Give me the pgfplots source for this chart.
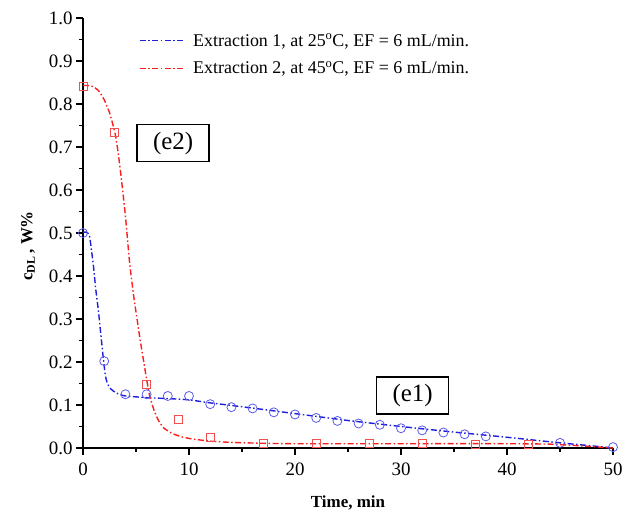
\documentclass[border=0pt]{standalone}
\usepackage{pgfplots}
\pgfplotsset{compat=1.18}
\usepackage{fontspec}
\setmainfont{Liberation Serif}
\definecolor{myblue}{RGB}{30,30,220}
\definecolor{myred}{RGB}{250,30,30}
\definecolor{mkblue}{RGB}{90,90,235}
\definecolor{mkred}{RGB}{240,80,80}
\begin{document}
\begin{tikzpicture}
\begin{axis}[
  name=ax,
  scale only axis,
  width=530bp, height=430bp,
  xmin=0, xmax=50, ymin=0, ymax=1.0,
  axis x line=bottom, axis y line=left,
  axis line style={-, line width=1.4bp, black},
  tick align=outside,
  xtick={0,10,20,30,40,50},
  minor xtick={5,15,25,35,45},
  ytick={0,0.1,0.2,0.3,0.4,0.5,0.6,0.7,0.8,0.9,1.0},
  minor ytick={0.05,0.15,0.25,0.35,0.45,0.55,0.65,0.75,0.85,0.95},
  major tick length=7bp, minor tick length=4bp,
  every tick/.style={black, line width=1.2bp},
  /pgf/number format/assume math mode=true,
  yticklabel style={/pgf/number format/.cd, fixed, fixed zerofill, precision=1},
  xticklabel style={yshift=-4bp},
  ticklabel style={font=\fontsize{19}{21}\selectfont},
  xlabel={\textbf{Time, min}},
  ylabel={\textbf{c\textsubscript{DL}\,, W\%}},
  every axis x label/.style={at={(rel axis cs:0.5,0)}, yshift=-55bp, anchor=center, font=\fontsize{17}{19}\selectfont},
  every axis y label/.style={at={(rel axis cs:0,0.47)}, xshift=-55bp, rotate=90, anchor=center, font=\fontsize{17}{19}\selectfont},
  legend style={at={(rel axis cs:0.105,0.968)}, anchor=north west, draw=none, fill=none, inner sep=0pt, row sep=10bp, font=\fontsize{18}{20}\selectfont, nodes={inner ysep=2bp, inner xsep=8bp}},
  legend cell align=left,
  legend image code/.code={\draw[#1] (0bp,0bp) -- (45bp,0bp);},
  clip=false,
]
% fitted curves
\addplot[myblue, line width=1.4bp, dash pattern=on 6bp off 2.5bp on 1.5bp off 2.5bp, smooth, tension=0.3] coordinates {
(0,0.502)(0.3,0.502)(0.6,0.495)(0.8,0.46)(1.0,0.42)(1.2,0.37)(1.45,0.32)(1.7,0.26)(1.9,0.212)(2.1,0.17)(2.3,0.15)(2.6,0.138)(3.0,0.13)(3.5,0.124)(4,0.121)(5,0.119)(6,0.117)(8,0.115)(10,0.112)(12,0.105)(15,0.096)(20,0.080)(25,0.064)(30,0.050)(35,0.037)(40,0.025)(45,0.012)(48,0.005)(50,0.0)};
\addlegendentry{Extraction 1, at 25\textsuperscript{o}C, EF = 6 mL/min.}
\addplot[myred, line width=1.4bp, dash pattern=on 6bp off 2.5bp on 1.5bp off 2.5bp, smooth, tension=0.3] coordinates {
(0,0.843)(0.5,0.843)(1,0.84)(1.5,0.83)(2,0.81)(2.5,0.78)(3,0.735)(3.3,0.69)(3.6,0.63)(4,0.54)(4.4,0.43)(4.8,0.35)(5.1,0.30)(5.4,0.25)(5.7,0.205)(6.0,0.16)(6.3,0.12)(6.7,0.088)(7.1,0.065)(7.6,0.047)(8.4,0.034)(9.3,0.026)(10.3,0.021)(12,0.016)(14,0.013)(17,0.011)(20,0.010)(30,0.010)(40,0.010)(44,0.009)(47,0.005)(50,0.0)};
\addlegendentry{Extraction 2, at 45\textsuperscript{o}C, EF = 6 mL/min.}
% experimental points
\addplot[only marks, forget plot, mark=o, mark size=4.5bp, mkblue, mark options={line width=0.8bp}] coordinates {
(0,0.5)(2,0.202)(4,0.125)(6,0.125)(8,0.121)(10,0.121)(12,0.102)(14,0.095)(16,0.092)(18,0.083)(20,0.078)(22,0.070)(24,0.063)(26,0.057)(28,0.054)(30,0.046)(32,0.041)(34,0.036)(36,0.032)(38,0.027)(45,0.012)(50,0.002)};
\addplot[only marks, forget plot, mark=square, mark size=4bp, mkred, mark options={line width=0.8bp}] coordinates {
(0,0.84)(3,0.733)(6,0.148)(9,0.067)(12,0.024)(17,0.011)(22,0.011)(27,0.011)(32,0.011)(37,0.009)(42,0.009)};
\node[draw=black, line width=1.6bp, minimum width=72bp, minimum height=37bp, font=\fontsize{25}{27}\selectfont, inner sep=0pt] at (axis cs:8.5,0.709) {(e2)};
\node[draw=black, line width=1.6bp, minimum width=72bp, minimum height=37bp, font=\fontsize{25}{27}\selectfont, inner sep=0pt] at (axis cs:31.1,0.122) {(e1)};
\end{axis}
\pgfresetboundingbox
\path ([shift={(-83bp,-66bp)}]ax.south west) rectangle ([shift={(10bp,18bp)}]ax.north east);
\end{tikzpicture}
\end{document}
